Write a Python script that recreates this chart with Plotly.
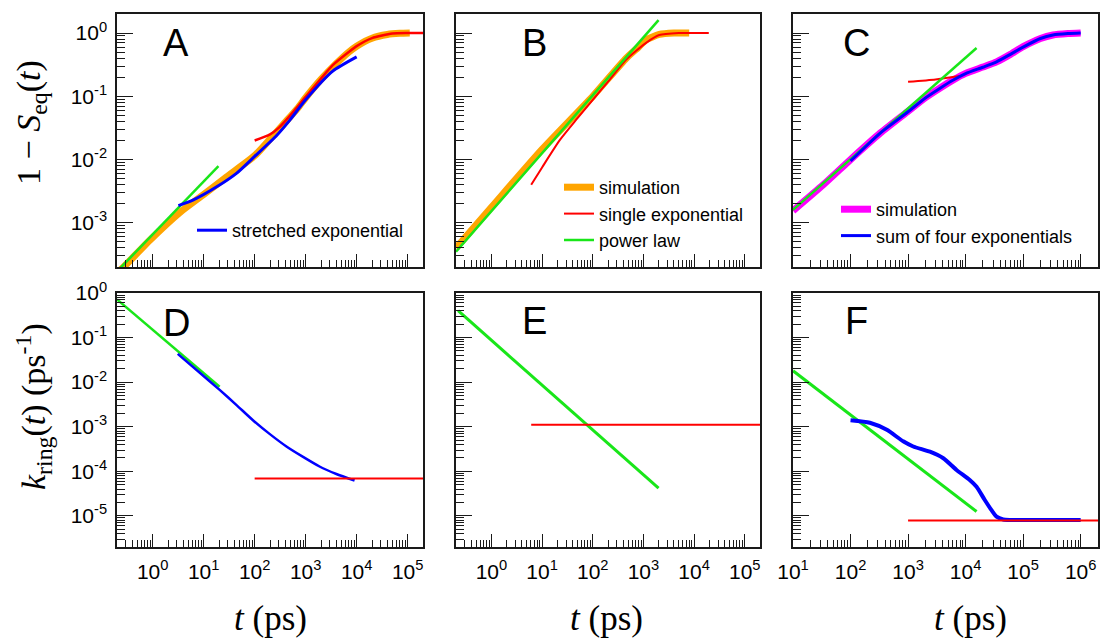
import math
import plotly.graph_objects as go

# ---------------- data ----------------
# Panel A : 1 - S_eq(t)
A_sim_t = [0.2, 0.27, 0.9, 3.4, 10, 28, 100, 200, 400, 700, 1000, 2000, 4000, 7000, 10000, 20000, 40000, 70000, 110000]
A_sim_y = [1.6e-4, 2.0e-4, 5.4e-4, 1.45e-3, 2.8e-3, 5.3e-3, 0.0115, 0.021, 0.039, 0.065, 0.095, 0.185, 0.33, 0.5, 0.62, 0.83, 0.95, 0.99, 1.0]
A_exp_t = [100, 200, 300, 500, 1000, 2000, 3400, 7000, 10000, 20000, 50000, 100000, 200000]
A_exp_y = [0.02, 0.025, 0.032, 0.05, 0.098, 0.19, 0.31, 0.5, 0.62, 0.83, 0.98, 1.0, 1.0]
A_pow_t = [0.2, 19.5]
A_pow_y = [1.7e-4, 7.9e-3]
A_str_t = [3.2, 6.3, 18, 44.6, 100, 270, 490, 1000, 3400, 10000]
A_str_y = [1.87e-3, 2.3e-3, 3.7e-3, 6.1e-3, 0.0112, 0.024, 0.042, 0.088, 0.25, 0.42]

# Panel B
B_sim_t = [0.2, 1, 10, 100, 457, 800, 1130, 2050, 4000, 8000]
B_sim_y = [4e-4, 1.76e-3, 0.0145, 0.1, 0.4, 0.6, 0.78, 0.95, 1.0, 1.0]
B_exp_t = [6.1, 10, 22.5, 50, 100, 200, 457, 1130, 2050, 5000, 19500]
B_exp_y = [4e-3, 7.5e-3, 0.0204, 0.045, 0.088, 0.17, 0.38, 0.7, 0.93, 1.0, 1.0]
B_pow_t = [0.2, 1990]
B_pow_y = [3.5e-4, 1.6]

# Panel C
C_sim_t = [10, 33.7, 100, 325, 1000, 2000, 3550, 6000, 10000, 20000, 34500, 60000, 100000, 200000, 330000, 600000, 1000000]
C_sim_y = [1.55e-3, 4.0e-3, 0.01, 0.026, 0.058, 0.095, 0.134, 0.18, 0.23, 0.29, 0.35, 0.46, 0.61, 0.82, 0.93, 0.98, 1.0]
C_exp_t = [1000, 3000, 7900]
C_exp_y = [0.17, 0.185, 0.21]
C_pow_t = [10, 15500]
C_pow_y = [1.6e-3, 0.58]
C_sum_t = [100, 325, 1000, 2000, 3550, 6000, 10000, 20000, 34500, 60000, 100000, 200000, 330000, 600000, 1000000]
C_sum_y = [0.0095, 0.026, 0.057, 0.094, 0.133, 0.179, 0.228, 0.288, 0.35, 0.46, 0.6, 0.82, 0.93, 0.98, 1.0]

# Panel D : k_ring(t)
D_pow_t = [0.2, 20.6]
D_pow_y = [0.72, 7.9e-3]
D_str_t = [3.1, 8.4, 20.6, 43.6, 92.6, 196, 420, 890, 1870, 4000, 9100]
D_str_y = [0.043, 0.0163, 6.7e-3, 3.1e-3, 1.4e-3, 6.9e-4, 3.6e-4, 2.1e-4, 1.28e-4, 8.7e-5, 6.2e-5]
D_exp_t = [100, 200000]
D_exp_y = [6.9e-5, 6.9e-5]

# Panel E
E_pow_t = [0.22, 1990]
E_pow_y = [0.4, 4.2e-5]
E_exp_t = [6.1, 200000]
E_exp_y = [1.1e-3, 1.1e-3]

# Panel F
F_pow_t = [10, 15500]
F_pow_y = [0.018, 1.25e-5]
F_sum_t = [100, 217, 427, 822, 1230, 2400, 4100, 6960, 11800, 15500, 21400, 28000, 34500, 45000, 59000, 1000000]
F_sum_y = [1.4e-3, 1.23e-3, 8.5e-4, 4.7e-4, 3.6e-4, 2.75e-4, 1.96e-4, 1.07e-4, 6.4e-5, 4.5e-5, 2.3e-5, 1.36e-5, 9.6e-6, 8.3e-6, 8.1e-6, 8.1e-6]
F_exp_t = [1000, 2000000]
F_exp_y = [7.9e-6, 7.9e-6]

x_labels_AB = ["10<sup>0</sup>", "10<sup>1</sup>", "10<sup>2</sup>", "10<sup>3</sup>", "10<sup>4</sup>", "10<sup>5</sup>"]
x_vals_AB = [1, 10, 100, 1000, 10000, 100000]
x_labels_C = ["10<sup>1</sup>", "10<sup>2</sup>", "10<sup>3</sup>", "10<sup>4</sup>", "10<sup>5</sup>", "10<sup>6</sup>"]
x_vals_C = [10, 100, 1000, 10000, 100000, 1000000]
y_labels_top = ["10<sup>0</sup>", "10<sup>-1</sup>", "10<sup>-2</sup>", "10<sup>-3</sup>"]
y_vals_top = [1, 0.1, 0.01, 0.001]
y_labels_bot = ["10<sup>0</sup>", "10<sup>-1</sup>", "10<sup>-2</sup>", "10<sup>-3</sup>", "10<sup>-4</sup>", "10<sup>-5</sup>"]
y_vals_bot = [1, 0.1, 0.01, 0.001, 1e-4, 1e-5]

# ---------------- styling ----------------
ORANGE = "#FFA500"
RED = "#FF0000"
GREEN = "#19E619"
BLUE = "#0000FF"
MAGENTA = "#FF00FF"
SANS = "Liberation Sans, Arial, Helvetica, sans-serif"
SERIF = "Liberation Serif, Times New Roman, serif"
W, H = 1101, 639

fig = go.Figure()


def add(t, y, color, width, n, name=None, legend=None, shape="spline"):
    fig.add_trace(go.Scatter(
        x=t, y=y, mode="lines",
        line=dict(color=color, width=width, shape=shape, smoothing=0.6 if shape == "spline" else None),
        xaxis="x" + ("" if n == 1 else str(n)), yaxis="y" + ("" if n == 1 else str(n)),
        name=name if name else "", showlegend=name is not None,
        legend=legend if legend else "legend", hoverinfo="skip"))


# A
add(A_sim_t, A_sim_y, ORANGE, 7, 1)
add(A_exp_t, A_exp_y, RED, 2.5, 1)
add(A_pow_t, A_pow_y, GREEN, 2.5, 1, shape="linear")
add(A_str_t, A_str_y, BLUE, 3, 1, name="stretched exponential", legend="legend")
# B
add(B_sim_t, B_sim_y, ORANGE, 7, 2, name="simulation", legend="legend2")
add(B_exp_t, B_exp_y, RED, 2, 2, name="single exponential", legend="legend2")
add(B_pow_t, B_pow_y, GREEN, 2.5, 2, name="power law", legend="legend2", shape="linear")
# C
add(C_sim_t, C_sim_y, MAGENTA, 7, 3, name="simulation", legend="legend3")
add(C_exp_t, C_exp_y, RED, 2, 3)
add(C_pow_t, C_pow_y, GREEN, 2.5, 3, shape="linear")
add(C_sum_t, C_sum_y, BLUE, 3, 3, name="sum of four exponentials", legend="legend3")
# D
add(D_pow_t, D_pow_y, GREEN, 2.5, 4, shape="linear")
add(D_str_t, D_str_y, BLUE, 2.5, 4)
add(D_exp_t, D_exp_y, RED, 2, 4, shape="linear")
# E
add(E_pow_t, E_pow_y, GREEN, 3, 5, shape="linear")
add(E_exp_t, E_exp_y, RED, 2, 5, shape="linear")
# F
add(F_pow_t, F_pow_y, GREEN, 3, 6, shape="linear")
add(F_sum_t, F_sum_y, BLUE, 4, 6)
add(F_exp_t, F_exp_y, RED, 2, 6, shape="linear")

# domains in pixels -> paper fractions
cols = [(117, 423), (456, 760), (793, 1098)]
rows = [(14, 267), (293, 547)]


def xd(c):
    return [cols[c][0] / W, cols[c][1] / W]


def yd(r):
    return [1 - rows[r][1] / H, 1 - rows[r][0] / H]


LINE = "#1a1a1a"
tickfont = dict(family=SANS, size=21, color="black")


def xaxis(c, anchor, lo, hi, vals, labels, show):
    return dict(type="log", domain=xd(c), anchor=anchor, range=[math.log10(lo), math.log10(hi)],
                showline=True, mirror=True, linecolor=LINE, linewidth=1.5, automargin=False,
                ticks="inside", ticklen=13, tickwidth=1.3, tickcolor=LINE,
                tickmode="array", tickvals=vals, ticktext=labels, showticklabels=show,
                ticklabelstandoff=5,
                minor=dict(ticks="inside", ticklen=7, tickwidth=1, tickcolor=LINE, dtick="D1", showgrid=False),
                showgrid=False, zeroline=False, tickfont=tickfont)


def yaxis(r, anchor, lo, hi, vals, labels, show):
    return dict(type="log", domain=yd(r), anchor=anchor, range=[math.log10(lo), math.log10(hi)],
                showline=True, mirror=True, linecolor=LINE, linewidth=1.5, automargin=False,
                ticks="inside", ticklen=16, tickwidth=1.3, tickcolor=LINE,
                tickmode="array", tickvals=vals, ticktext=labels, showticklabels=show,
                ticklabelstandoff=4,
                minor=dict(ticks="inside", ticklen=8, tickwidth=1, tickcolor=LINE, dtick="D1", showgrid=False),
                showgrid=False, zeroline=False, tickfont=tickfont)


legfont = dict(family=SANS, size=18, color="black")
layout = dict(
    width=W, height=H, margin=dict(l=0, r=0, t=0, b=0, autoexpand=False),
    paper_bgcolor="white", plot_bgcolor="white",
    xaxis=xaxis(0, "y", 0.2, 2e5, x_vals_AB, x_labels_AB, False),
    yaxis=yaxis(0, "x", 2e-4, 2, y_vals_top, y_labels_top, True),
    xaxis2=xaxis(1, "y2", 0.2, 2e5, x_vals_AB, x_labels_AB, False),
    yaxis2=yaxis(0, "x2", 2e-4, 2, y_vals_top, y_labels_top, False),
    xaxis3=xaxis(2, "y3", 10, 2e6, x_vals_C, x_labels_C, False),
    yaxis3=yaxis(0, "x3", 2e-4, 2, y_vals_top, y_labels_top, False),
    xaxis4=xaxis(0, "y4", 0.2, 2e5, x_vals_AB, x_labels_AB, True),
    yaxis4=yaxis(1, "x4", 2e-6, 1, y_vals_bot, y_labels_bot, True),
    xaxis5=xaxis(1, "y5", 0.2, 2e5, x_vals_AB, x_labels_AB, True),
    yaxis5=yaxis(1, "x5", 2e-6, 1, y_vals_bot, y_labels_bot, False),
    xaxis6=xaxis(2, "y6", 10, 2e6, x_vals_C, x_labels_C, True),
    yaxis6=yaxis(1, "x6", 2e-6, 1, y_vals_bot, y_labels_bot, False),
    legend=dict(x=192 / W, y=1 - 212 / H, xanchor="left", yanchor="top", bgcolor="rgba(0,0,0,0)",
                font=legfont, itemwidth=30, tracegroupgap=0),
    legend2=dict(x=559 / W, y=1 - 169 / H, xanchor="left", yanchor="top", bgcolor="rgba(0,0,0,0)",
                 font=legfont, itemwidth=30, tracegroupgap=0),
    legend3=dict(x=836 / W, y=1 - 191 / H, xanchor="left", yanchor="top", bgcolor="rgba(0,0,0,0)",
                 font=legfont, itemwidth=30, tracegroupgap=0),
    showlegend=True,
)
fig.update_layout(**layout)

# panel letters
letters = [("A", 176, 43), ("B", 534, 43), ("C", 856, 43), ("D", 177, 323), ("E", 534, 321), ("F", 857, 321)]
for txt, px, py in letters:
    fig.add_annotation(text=txt, x=px / W, y=1 - py / H, xref="paper", yref="paper", showarrow=False,
                       xanchor="center", yanchor="middle", font=dict(family=SANS, size=38, color="black"))

# axis titles
title_font = dict(family=SERIF, size=34, color="black")
fig.add_annotation(text="1 − <i>S</i><sub>eq</sub>(<i>t</i>)", x=31 / W, y=1 - 123 / H, xref="paper", yref="paper",
                   textangle=-90, showarrow=False, xanchor="center", yanchor="middle", font=title_font)
fig.add_annotation(text="<i>k</i><sub>ring</sub>(<i>t</i>) (ps<sup>-1</sup>)", x=33 / W, y=1 - 407 / H,
                   xref="paper", yref="paper", textangle=-90, showarrow=False, xanchor="center",
                   yanchor="middle", font=title_font)
for cx in (270, 606, 970):
    fig.add_annotation(text="<i>t</i> (ps)", x=cx / W, y=0, xref="paper", yref="paper",
                       showarrow=False, xanchor="center", yanchor="bottom", borderpad=0,
                       font=dict(family=SERIF, size=35, color="black"))

fig.write_html("out.html")
